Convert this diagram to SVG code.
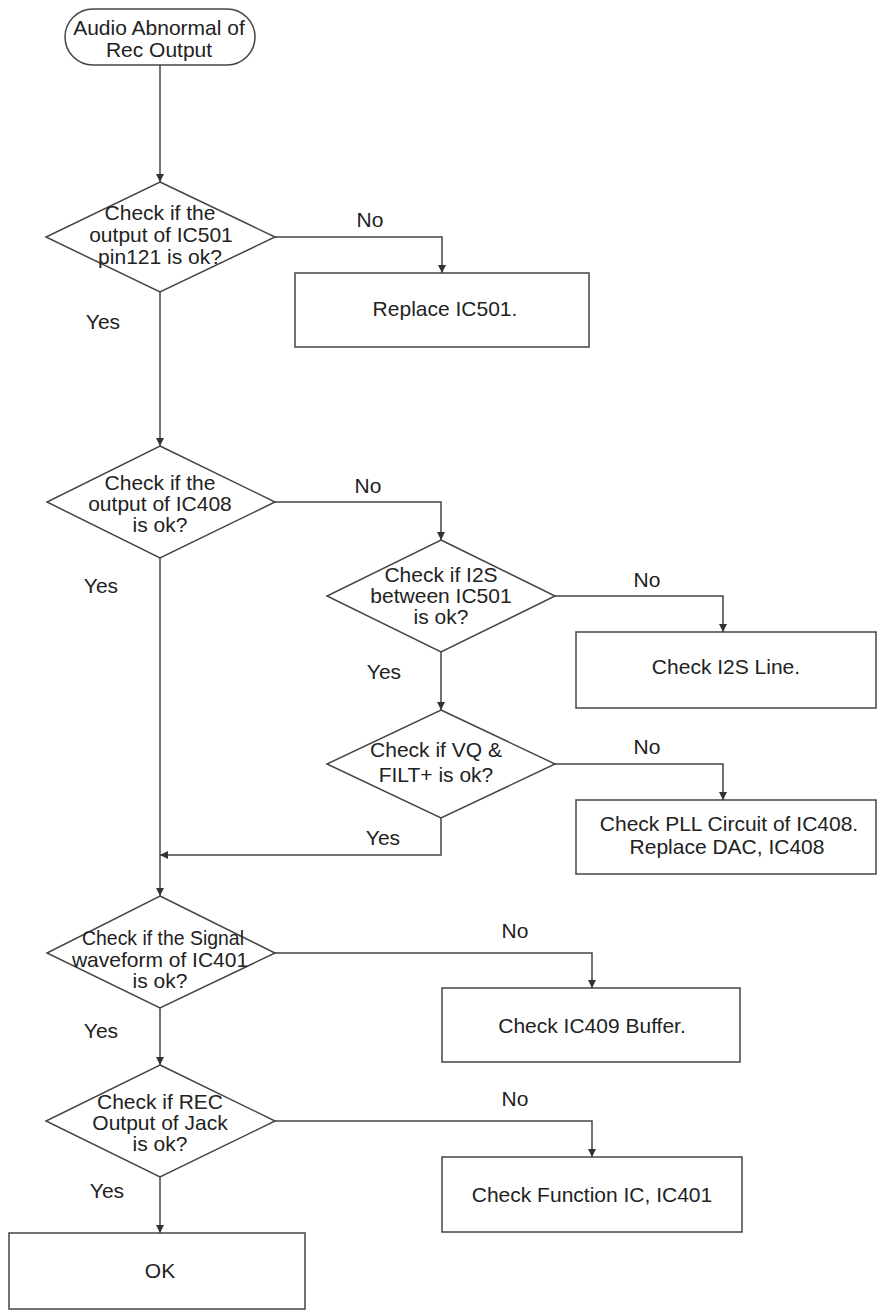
<svg xmlns="http://www.w3.org/2000/svg" width="884" height="1314" viewBox="0 0 884 1314">
<style>
.s{fill:#fff;stroke:#444;stroke-width:1.5}
.c{fill:none;stroke:#444;stroke-width:1.5}
text{font-family:"Liberation Sans",Arial,sans-serif;font-size:21px;fill:#222;text-anchor:middle}
</style>
<defs>
<marker id="ah" viewBox="0 0 10 10" refX="10" refY="5" markerWidth="8" markerHeight="8" markerUnits="userSpaceOnUse" orient="auto">
<path d="M0,0 L10,5 L0,10 z" fill="#333"/>
</marker>
</defs>
<rect width="884" height="1314" fill="#fff"/>
<g id="connectors">
<path class="c" d="M160,65 V182" marker-end="url(#ah)"/>
<path class="c" d="M275,237 H442 V273" marker-end="url(#ah)"/>
<path class="c" d="M160,292 V446" marker-end="url(#ah)"/>
<path class="c" d="M275,502 H441 V540" marker-end="url(#ah)"/>
<path class="c" d="M160,558 V896" marker-end="url(#ah)"/>
<path class="c" d="M555,596 H723 V632" marker-end="url(#ah)"/>
<path class="c" d="M441,652 V710" marker-end="url(#ah)"/>
<path class="c" d="M555,764 H723 V800" marker-end="url(#ah)"/>
<path class="c" d="M441,818 V855 H160" marker-end="url(#ah)"/>
<path class="c" d="M275,953 H592 V988" marker-end="url(#ah)"/>
<path class="c" d="M160,1008 V1065" marker-end="url(#ah)"/>
<path class="c" d="M275,1121 H592 V1157" marker-end="url(#ah)"/>
<path class="c" d="M160,1177 V1233" marker-end="url(#ah)"/>
<text x="370" y="227">No</text>
<text x="103" y="329">Yes</text>
<text x="368" y="493">No</text>
<text x="101" y="593">Yes</text>
<text x="647" y="587">No</text>
<text x="384" y="679">Yes</text>
<text x="647" y="754">No</text>
<text x="383" y="845">Yes</text>
<text x="515" y="938">No</text>
<text x="101" y="1038">Yes</text>
<text x="515" y="1106">No</text>
<text x="107" y="1198">Yes</text>
</g>
<g id="start">
<rect class="s" x="65" y="9" width="190" height="56" rx="28"/>
<text x="159" y="35">Audio Abnormal of</text>
<text x="159" y="57">Rec Output</text>
</g>
<g id="d1">
<polygon class="s" points="160,182 275,237 160,292 46,237"/>
<text x="160" y="220">Check if the</text>
<text x="161" y="242">output of IC501</text>
<text x="160" y="264">pin121 is ok?</text>
</g>
<g id="b1">
<rect class="s" x="295" y="273" width="294" height="74"/>
<text x="445" y="316">Replace IC501.</text>
</g>
<g id="d2">
<polygon class="s" points="160,446 275,502 160,558 47,502"/>
<text x="160" y="490">Check if the</text>
<text x="160" y="511">output of IC408</text>
<text x="160" y="532">is ok?</text>
</g>
<g id="d3">
<polygon class="s" points="441,540 555,596 441,652 327,596"/>
<text x="441" y="582">Check if I2S</text>
<text x="441" y="603">between IC501</text>
<text x="441" y="624">is ok?</text>
</g>
<g id="b2">
<rect class="s" x="576" y="632" width="300" height="76"/>
<text x="726" y="674">Check I2S Line.</text>
</g>
<g id="d4">
<polygon class="s" points="441,710 555,764 441,818 327,764"/>
<text x="436" y="757">Check if VQ &amp;</text>
<text x="436" y="782">FILT+ is ok?</text>
</g>
<g id="b3">
<rect class="s" x="576" y="800" width="300" height="74"/>
<text x="729" y="831">Check PLL Circuit of IC408.</text>
<text x="727" y="854">Replace DAC, IC408</text>
</g>
<g id="d5">
<polygon class="s" points="160,896 275,953 160,1008 47,953"/>
<text x="163" y="945" textLength="162" lengthAdjust="spacingAndGlyphs">Check if the Signal</text>
<text x="160" y="967">waveform of IC401</text>
<text x="160" y="988">is ok?</text>
</g>
<g id="b4">
<rect class="s" x="442" y="988" width="298" height="74"/>
<text x="592" y="1033">Check IC409 Buffer.</text>
</g>
<g id="d6">
<polygon class="s" points="160,1065 275,1121 160,1177 46,1121"/>
<text x="160" y="1109">Check if REC</text>
<text x="160" y="1130">Output of Jack</text>
<text x="160" y="1151">is ok?</text>
</g>
<g id="b5">
<rect class="s" x="442" y="1157" width="300" height="75"/>
<text x="592" y="1202">Check Function IC, IC401</text>
</g>
<g id="ok">
<rect class="s" x="9" y="1233" width="296" height="76"/>
<text x="160" y="1278">OK</text>
</g>
</svg>
